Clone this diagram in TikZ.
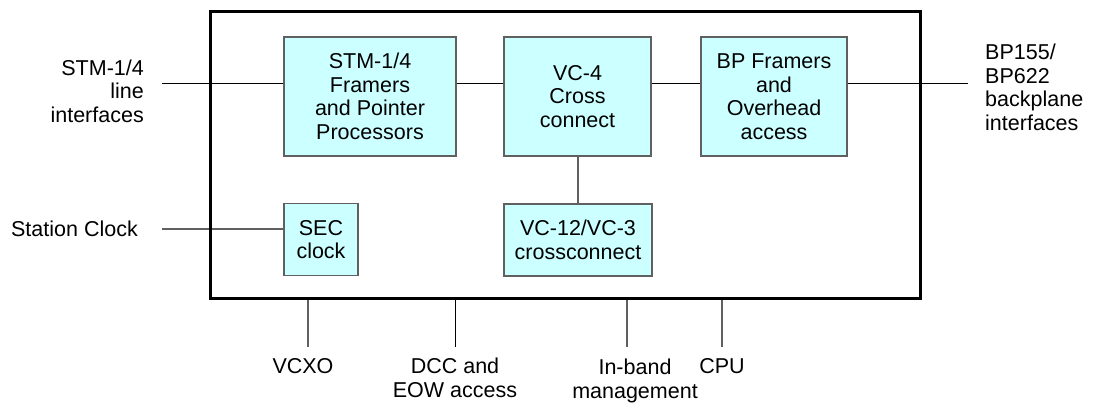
\documentclass[tikz,border=0pt]{standalone}
\usepackage{fontspec}
\setmainfont{Liberation Sans}
\definecolor{boxfill}{RGB}{204,255,255}
\definecolor{boxline}{RGB}{96,96,96}
\begin{document}
\begin{tikzpicture}[x=1pt,y=-1pt,
  txt/.style={font=\fontsize{21.5}{23.5}\selectfont, inner sep=0pt},
  blk/.style={txt, draw=boxline, fill=boxfill, line width=1.2pt, align=center},
  hline/.style={draw=black, line width=1pt},
  vline/.style={draw=boxline, line width=1.3pt},
  frame/.style={draw=black, line width=3pt, inner sep=0pt}]
\useasboundingbox (0,0) rectangle (1095,403);
% inner blocks
\node[blk, minimum width=172pt, minimum height=119pt] (stm) at (370,96.5) {STM-1/4\\Framers\\and Pointer\\Processors};
\node[blk, minimum width=147pt, minimum height=119pt] (vc4) at (577.5,96.5) {VC-4\\Cross\\connect};
\node[blk, minimum width=146pt, minimum height=119pt] (bp) at (774,96.5) {BP Framers\\and\\Overhead\\access};
\node[blk, minimum width=74pt, minimum height=72pt] (sec) at (321,239.5) {SEC\\clock};
\node[blk, minimum width=148pt, minimum height=72pt] (vc12) at (578,240) {VC-12/VC-3\\crossconnect};
% outer labels
\node[txt, anchor=east, align=right] (lineif) at (144,91) {STM-1/4\\line\\interfaces};
\node[txt, anchor=east] (stclk) at (138,229) {Station Clock};
\node[txt, anchor=west, align=left] (bpif) at (985,87.5) {BP155/\\BP622\\backplane\\interfaces};
\node[txt] (vcxo) at (303,366) {VCXO};
\node[txt, align=center] (dcc) at (455,378) {DCC and\\EOW access};
\node[txt, align=center] (inb) at (635,381) {In-band\\management};
\node[txt] (cpu) at (722,366) {CPU};
% free ends
\coordinate (l1) at (162,84);
\coordinate (l2) at (162,229);
\coordinate (r1) at (968,84);
\coordinate (b1) at (308,347);
\coordinate (b2) at (455,347);
\coordinate (b3) at (627,347);
\coordinate (b4) at (722,347);
% connectors
\draw[hline] (l1) -- (l1 -| stm.west);
\draw[hline] (stm.east |- l1) -- (vc4.west |- l1);
\draw[hline] (vc4.east |- l1) -- (bp.west |- l1);
\draw[hline] (bp.east |- r1) -- (r1);
\draw[vline] (l2) -- (l2 -| sec.west);
\draw[vline] (vc4.south -| vc12.north) -- (vc12.north);
% main frame
\node[frame, minimum width=710pt, minimum height=287pt] (main) at (565,155.5) {};
\draw[vline] (b1 |- main.south) -- (b1);
\draw[hline] (b2 |- main.south) -- (b2);
\draw[vline] (b3 |- main.south) -- (b3);
\draw[vline] (b4 |- main.south) -- (b4);
\end{tikzpicture}
\end{document}
